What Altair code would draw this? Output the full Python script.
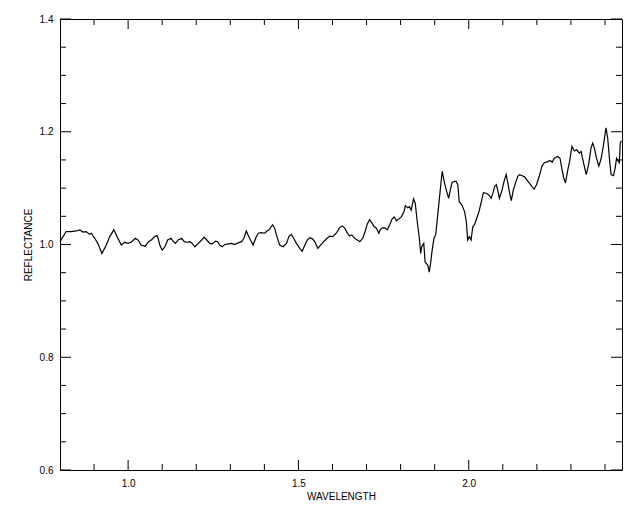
import altair as alt
import pandas as pd

wavelength = [
    0.800, 0.818, 0.833, 0.848, 0.858, 0.867, 0.877, 0.887, 0.892, 0.902,
    0.911, 0.921, 0.923, 0.936, 0.946, 0.958, 0.970, 0.980, 0.990, 0.999,
    1.009, 1.021, 1.029, 1.038, 1.050, 1.060, 1.068, 1.078, 1.085, 1.088,
    1.093, 1.100, 1.108, 1.116, 1.126, 1.132, 1.139, 1.147, 1.157, 1.165,
    1.172, 1.182, 1.188, 1.196, 1.206, 1.216, 1.223, 1.231, 1.240, 1.247,
    1.257, 1.263, 1.269, 1.276, 1.284, 1.294, 1.304, 1.313, 1.323, 1.333,
    1.340, 1.347, 1.354, 1.362, 1.367, 1.375, 1.382, 1.391, 1.401, 1.406,
    1.414, 1.424, 1.430, 1.437, 1.445, 1.455, 1.465, 1.472, 1.479, 1.486,
    1.494, 1.504, 1.511, 1.519, 1.526, 1.533, 1.541, 1.548, 1.557, 1.565,
    1.574, 1.584, 1.592, 1.601, 1.611, 1.621, 1.629, 1.636, 1.644, 1.650,
    1.657, 1.665, 1.673, 1.680, 1.689, 1.696, 1.702, 1.709, 1.716, 1.722,
    1.729, 1.736, 1.741, 1.748, 1.755, 1.761, 1.768, 1.775, 1.781, 1.788,
    1.794, 1.802, 1.810, 1.814, 1.821, 1.826, 1.831, 1.838, 1.843, 1.849,
    1.855, 1.859, 1.862, 1.868, 1.872, 1.876, 1.880, 1.884, 1.888, 1.892,
    1.898, 1.903, 1.909, 1.915, 1.922, 1.929, 1.934, 1.941, 1.946, 1.951,
    1.958, 1.963, 1.968, 1.972, 1.980, 1.988, 1.993, 1.997, 2.002, 2.007,
    2.012, 2.017, 2.022, 2.030, 2.037, 2.043, 2.051, 2.059, 2.066, 2.071,
    2.076, 2.081, 2.085, 2.090, 2.098, 2.105, 2.110, 2.115, 2.120, 2.125,
    2.131, 2.139, 2.144, 2.149, 2.157, 2.164, 2.170, 2.178, 2.192, 2.199,
    2.207, 2.215, 2.222, 2.232, 2.239, 2.245, 2.251, 2.261, 2.268, 2.274,
    2.279, 2.284, 2.291, 2.296, 2.303, 2.310, 2.317, 2.325, 2.330, 2.337,
    2.345, 2.352, 2.359, 2.364, 2.369, 2.374, 2.382, 2.389, 2.395, 2.403,
    2.408, 2.413, 2.418, 2.425, 2.430, 2.434, 2.437, 2.442, 2.445, 2.448,
]

reflectance = [
    1.005, 1.023, 1.023, 1.024, 1.026, 1.022, 1.023, 1.018, 1.020, 1.011,
    1.002, 0.987, 0.984, 0.999, 1.014, 1.026, 1.011, 0.999, 1.004, 1.002,
    1.004, 1.011, 1.008, 0.999, 0.997, 1.005, 1.008, 1.014, 1.016, 1.011,
    0.999, 0.990, 0.996, 1.008, 1.011, 1.006, 1.002, 1.008, 1.011, 1.005,
    1.004, 1.005, 1.002, 0.996, 1.002, 1.008, 1.013, 1.008, 1.002, 1.001,
    1.006, 1.005, 0.999, 0.996, 1.000, 1.001, 1.002, 1.000, 1.003, 1.005,
    1.011, 1.024, 1.014, 1.005, 0.999, 1.012, 1.020, 1.021, 1.020, 1.023,
    1.026, 1.035, 1.029, 1.014, 0.999, 0.996, 1.002, 1.014, 1.018, 1.011,
    1.002, 0.993, 0.988, 0.999, 1.008, 1.012, 1.010, 1.005, 0.993, 0.999,
    1.005, 1.011, 1.015, 1.014, 1.020, 1.030, 1.033, 1.029, 1.020, 1.015,
    1.017, 1.011, 1.008, 1.005, 1.011, 1.023, 1.036, 1.044, 1.038, 1.032,
    1.029, 1.020, 1.027, 1.030, 1.029, 1.026, 1.035, 1.045, 1.049, 1.042,
    1.045, 1.049, 1.058, 1.069, 1.065, 1.067, 1.061, 1.081, 1.073, 1.040,
    1.011, 0.984, 0.996, 1.002, 0.969, 0.966, 0.963, 0.951, 0.966, 0.987,
    1.011, 1.017, 1.052, 1.088, 1.130, 1.109, 1.097, 1.082, 1.097, 1.110,
    1.112, 1.112, 1.106, 1.076, 1.070, 1.058, 1.040, 1.008, 1.014, 1.008,
    1.032, 1.035, 1.044, 1.058, 1.076, 1.092, 1.091, 1.088, 1.082, 1.091,
    1.103, 1.106, 1.097, 1.082, 1.097, 1.115, 1.124, 1.109, 1.091, 1.078,
    1.097, 1.112, 1.121, 1.124, 1.122, 1.120, 1.115, 1.109, 1.098, 1.106,
    1.121, 1.139, 1.145, 1.147, 1.149, 1.146, 1.153, 1.156, 1.153, 1.133,
    1.118, 1.109, 1.133, 1.147, 1.174, 1.166, 1.168, 1.162, 1.165, 1.145,
    1.124, 1.142, 1.171, 1.180, 1.171, 1.156, 1.139, 1.153, 1.174, 1.207,
    1.189, 1.153, 1.124, 1.122, 1.136, 1.153, 1.150, 1.145, 1.180, 1.184,
]

x_major_ticks = [1.0, 1.5, 2.0]
x_minor_ticks = [0.9, 1.1, 1.2, 1.3, 1.4, 1.6, 1.7, 1.8, 1.9, 2.1, 2.2, 2.3, 2.4]
y_major_ticks = [0.6, 0.8, 1.0, 1.2, 1.4]
y_minor_ticks = [0.65, 0.7, 0.75, 0.85, 0.9, 0.95, 1.05, 1.1, 1.15, 1.25, 1.3, 1.35]

W, H = 562, 451
FONT = "Liberation Sans"

xs = alt.Scale(domain=[0.8, 2.45], nice=False, zero=False)
ys = alt.Scale(domain=[0.6, 1.4], nice=False, zero=False)

df = pd.DataFrame({"wavelength": wavelength, "reflectance": reflectance})

line = alt.Chart(df).mark_line(color="black", strokeWidth=1.2).encode(
    x=alt.X("wavelength:Q", scale=xs, title="WAVELENGTH",
            axis=alt.Axis(values=x_major_ticks, format=".1f", ticks=False, domain=False,
                          grid=False, labelPadding=8, titlePadding=3,
                          labelFont=FONT, titleFont=FONT, labelFontSize=10,
                          titleFontSize=10, titleFontWeight="normal",
                          labelColor="black", titleColor="black")),
    y=alt.Y("reflectance:Q", scale=ys, title="REFLECTANCE",
            axis=alt.Axis(values=y_major_ticks, format=".1f", ticks=False, domain=False,
                          grid=False, labelPadding=7, titlePadding=6,
                          labelFont=FONT, titleFont=FONT, labelFontSize=10,
                          titleFontSize=10, titleFontWeight="normal",
                          labelColor="black", titleColor="black")),
)


def xticks(vals, length):
    d = pd.DataFrame({"t": vals})
    bottom = alt.Chart(d).mark_rule(color="black", strokeWidth=1).encode(
        x=alt.X("t:Q", scale=xs), y=alt.value(H), y2=alt.value(H - length))
    top = alt.Chart(d).mark_rule(color="black", strokeWidth=1).encode(
        x=alt.X("t:Q", scale=xs), y=alt.value(0), y2=alt.value(length))
    return [bottom, top]


def yticks(vals, length):
    d = pd.DataFrame({"t": vals})
    left = alt.Chart(d).mark_rule(color="black", strokeWidth=1).encode(
        y=alt.Y("t:Q", scale=ys), x=alt.value(0), x2=alt.value(length))
    right = alt.Chart(d).mark_rule(color="black", strokeWidth=1).encode(
        y=alt.Y("t:Q", scale=ys), x=alt.value(W), x2=alt.value(W - length))
    return [left, right]


layers = [line] + xticks(x_major_ticks, 10) + xticks(x_minor_ticks, 6) \
    + yticks(y_major_ticks, 11) + yticks(y_minor_ticks, 6)

chart = alt.layer(*layers).properties(
    width=W, height=H,
    background="white",
    autosize=alt.AutoSizeParams(type="none"),
    padding={"left": 52, "top": 11, "right": 10, "bottom": 34},
).configure_view(stroke="black", strokeWidth=1)

chart.save("out.html", embed_options={"renderer": "svg", "actions": False})
